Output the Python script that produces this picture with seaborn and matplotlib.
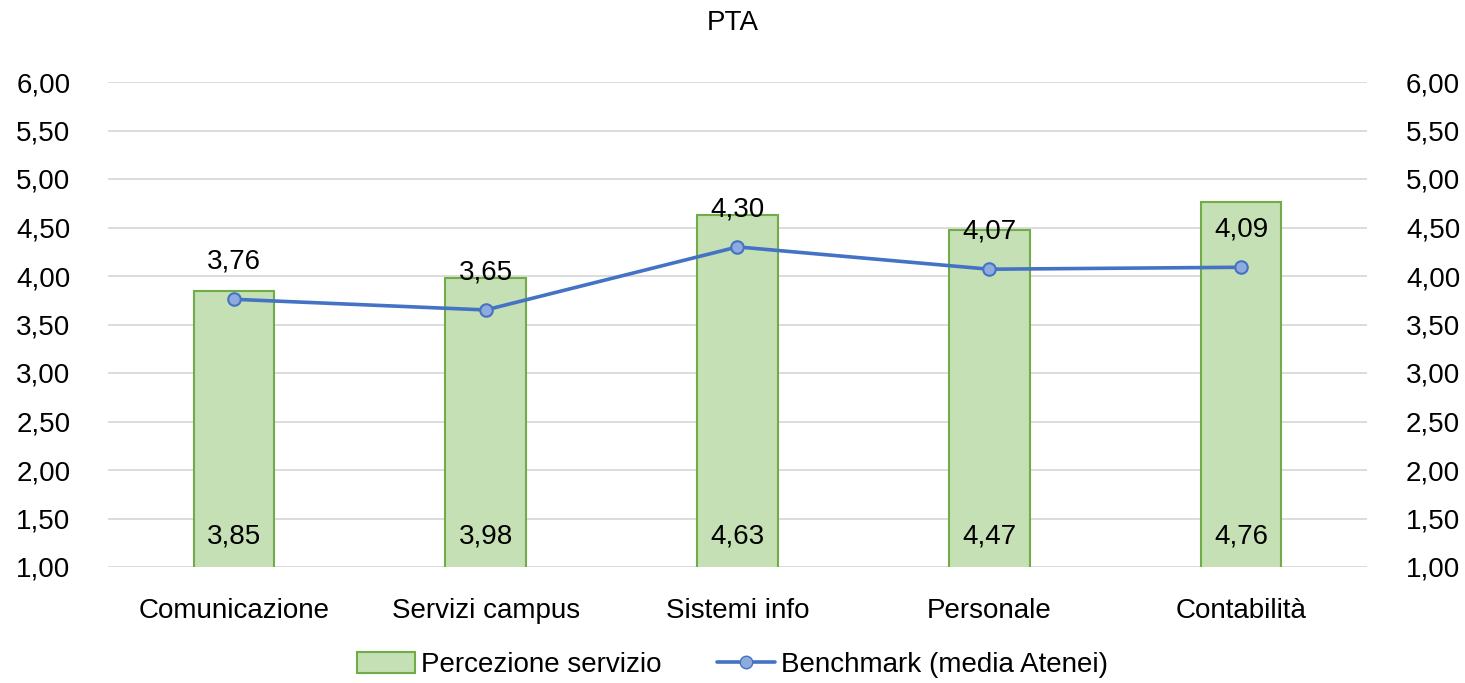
import numpy as np
import pandas as pd
import matplotlib
matplotlib.use("Agg")
import matplotlib.pyplot as plt
import seaborn as sns
from matplotlib.patches import Patch
from matplotlib.lines import Line2D

# ── Data ──────────────────────────────────────────────────────────────────────

categories = ["Comunicazione", "Servizi campus", "Sistemi info", "Personale", "Contabilità"]
percezione = [3.85, 3.98, 4.63, 4.47, 4.76]
benchmark = [3.76, 3.65, 4.30, 4.07, 4.09]
y_ticks = [1.0, 1.5, 2.0, 2.5, 3.0, 3.5, 4.0, 4.5, 5.0, 5.5, 6.0]

df = pd.DataFrame({"area": categories, "percezione": percezione, "benchmark": benchmark})

BAR_FILL = "#C5E0B4"
BAR_EDGE = "#70AD47"
LINE_COL = "#4472C4"
MARK_FILL = "#8FAADC"
TXT = "#000000"

sns.set_theme(style="white")
plt.rcParams["font.family"] = ["Liberation Sans", "DejaVu Sans"]
plt.rcParams["text.color"] = TXT

def fmt(v):
    return f"{v:.2f}".replace(".", ",")

fig = plt.figure(figsize=(14.65, 6.83), dpi=100)
ax = fig.add_axes([108 / 1465, 1 - 567 / 683, (1367 - 108) / 1465, (567 - 82) / 683])

sns.barplot(data=df, x="area", y="percezione", color=BAR_FILL, edgecolor=BAR_EDGE,
            linewidth=1.5, width=0.32, saturation=1, ax=ax, zorder=2)
sns.pointplot(data=df, x="area", y="benchmark", color=LINE_COL, markers="o",
              markersize=9, linewidth=2.6, markerfacecolor=MARK_FILL,
              markeredgecolor=LINE_COL, markeredgewidth=1.5, ax=ax, zorder=3)

ax.set_xlim(-0.5, len(categories) - 0.5)
ax.set_ylim(1, 6)
ax.set_yticks(y_ticks)
ax.set_yticklabels([fmt(t) for t in y_ticks], fontsize=20, color=TXT)
ax.set_xticks(range(len(categories)))
ax.set_xticklabels(categories, fontsize=20, color=TXT)
ax.tick_params(axis="y", length=0, pad=27)
ax.tick_params(axis="x", length=0, pad=22)
ax.set_xlabel("")
ax.set_ylabel("")
ax.yaxis.grid(True, color="#D9D9D9", linewidth=1.3, zorder=0)
ax.set_axisbelow(True)
for s in ax.spines.values():
    s.set_visible(False)

# data labels
for i, v in enumerate(percezione):
    ax.annotate(fmt(v), (i, 1), xytext=(0, 22), textcoords="offset points",
                ha="center", va="center", fontsize=20, color=TXT, zorder=5)
for i, v in enumerate(benchmark):
    ax.annotate(fmt(v), (i, v), xytext=(0, 27), textcoords="offset points",
                ha="center", va="center", fontsize=20, color=TXT, zorder=5)

# secondary axis
ax2 = ax.twinx()
ax2.set_ylim(1, 6)
ax2.set_yticks(y_ticks)
ax2.set_yticklabels([fmt(t) for t in y_ticks], fontsize=20, color=TXT)
ax2.tick_params(axis="y", length=0, pad=28)
ax2.grid(False)
for s in ax2.spines.values():
    s.set_visible(False)

fig.text(0.5, 1 - 23 / 683, "PTA", ha="center", va="center", fontsize=20, color=TXT)

handles = [
    Patch(facecolor=BAR_FILL, edgecolor=BAR_EDGE, linewidth=1.5),
    Line2D([0], [0], color=LINE_COL, linewidth=2.6, marker="o", markersize=9,
           markerfacecolor=MARK_FILL, markeredgecolor=LINE_COL),
]
fig.legend(handles, ["Percezione servizio", "Benchmark (media Atenei)"],
           loc="center", bbox_to_anchor=(0.5, 1 - 665 / 683), ncol=2, frameon=False,
           fontsize=20, handlelength=2.1, handleheight=0.8, handletextpad=0.2,
           columnspacing=2.0)

fig.savefig("out.png", dpi=100)
plt.close(fig)
